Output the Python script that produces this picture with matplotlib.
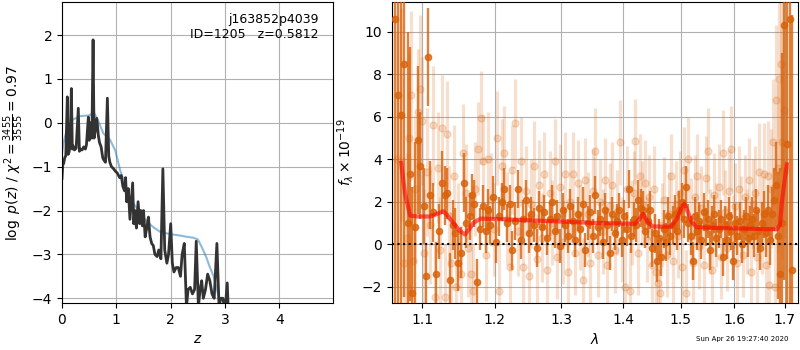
import numpy as np
import matplotlib.pyplot as plt
from matplotlib.ticker import FixedLocator, FixedFormatter, NullLocator

# p(z) curve
z_grid = [0.0, 0.015, 0.03, 0.05, 0.07, 0.098, 0.115, 0.13, 0.15, 0.172, 0.19,
          0.2, 0.23, 0.26, 0.30, 0.32, 0.34, 0.37, 0.40, 0.43, 0.45, 0.485, 0.50,
          0.53, 0.55, 0.572, 0.59, 0.61, 0.64, 0.67, 0.69, 0.72, 0.75, 0.77, 0.80,
          0.835, 0.86, 0.88, 0.91, 0.95, 0.98, 1.02, 1.06, 1.09, 1.12, 1.15, 1.17,
          1.19, 1.22, 1.25, 1.30, 1.32, 1.34, 1.37, 1.40, 1.43, 1.45, 1.48, 1.50,
          1.53, 1.56, 1.59, 1.62, 1.65, 1.68, 1.71, 1.75, 1.78, 1.82, 1.856, 1.89,
          1.93, 1.96, 2.0, 2.03, 2.06, 2.10, 2.14, 2.18, 2.21, 2.25, 2.29, 2.32,
          2.36, 2.40, 2.44, 2.47, 2.51, 2.54, 2.57, 2.60, 2.64, 2.68, 2.72, 2.76,
          2.80, 2.85, 2.89, 2.92, 2.96, 3.0, 3.04, 3.07]
log_pz = [-1.27, -0.95, -0.93, -0.8, -0.75, 0.59, -0.72, -0.67, -0.5, 0.78, -0.6,
          -0.52, -0.62, -0.58, 0.33, -0.65, -0.6, -0.62, -0.55, -0.6, -0.5, 0.13, -0.4,
          0.0, -0.35, 1.89, -0.35, -0.2, 0.1, -0.3, -0.45, -0.55, -0.8, -0.85, -0.9,
          0.56, -0.76, -0.9, -1.0, -1.05, -1.1, -1.15, -1.25, -1.2, -1.45, -1.55, -1.25,
          -1.8, -1.5, -2.2, -1.37, -2.3, -2.0, -2.4, -1.8, -2.3, -2.0, -2.35, -2.0,
          -2.6, -2.4, -2.15, -2.6, -2.75, -2.8, -3.0, -3.05, -2.9, -3.1, -1.05, -2.9,
          -3.2, -3.0, -2.3, -3.2, -3.4, -3.3, -3.3, -3.5, -3.0, -2.75, -4.2, -3.8,
          -3.75, -3.9, -3.8, -2.7, -4.2, -3.8, -3.6, -4.0, -3.8, -3.45, -3.6, -3.9,
          -4.0, -2.75, -4.2, -4.0, -4.0, -4.3, -3.65, -4.6]

z_prior = [0.0, 0.025, 0.086, 0.18, 0.33, 0.51, 0.58, 0.66, 0.76, 0.885, 0.98,
           1.07, 1.2, 1.32, 1.44, 1.56, 1.68, 1.81, 2.0, 2.17, 2.3, 2.42, 2.5,
           2.57, 2.65, 2.72, 2.79, 2.85, 2.91]
log_prior = [-0.7, -0.47, -0.17, 0.06, 0.15, 0.17, 0.25, 0.06, -0.24, -0.39, -0.63,
             -1.08, -1.55, -1.85, -2.06, -2.25, -2.38, -2.49, -2.54, -2.57, -2.6, -2.62, -2.66,
             -2.83, -3.05, -3.29, -3.5, -3.8, -4.1]

# binned spectrum (dark)
wave_bin = [1.065, 1.069, 1.073, 1.077, 1.081, 1.084, 1.087, 1.091, 1.095, 1.097,
            1.102, 1.105, 1.108, 1.111, 1.115, 1.118, 1.122, 1.127, 1.131, 1.134,
            1.138, 1.141, 1.144, 1.148, 1.153, 1.157, 1.160, 1.165, 1.168, 1.171,
            1.175, 1.179, 1.183, 1.187, 1.190, 1.194, 1.198, 1.202, 1.206, 1.210,
            1.214, 1.218, 1.222, 1.226, 1.230, 1.234, 1.238, 1.242, 1.246, 1.250,
            1.254, 1.258, 1.262, 1.266, 1.270, 1.274, 1.278, 1.282, 1.286, 1.290,
            1.294, 1.298, 1.302, 1.306, 1.310, 1.314, 1.318, 1.322, 1.326, 1.330,
            1.334, 1.338, 1.342, 1.346, 1.350, 1.354, 1.358, 1.362, 1.366, 1.370,
            1.374, 1.378, 1.382, 1.386, 1.390, 1.394, 1.398, 1.402, 1.406, 1.410,
            1.414, 1.418, 1.422, 1.426, 1.430, 1.434, 1.438, 1.442, 1.446, 1.450,
            1.454, 1.458, 1.462, 1.466, 1.470, 1.474, 1.478, 1.482, 1.486, 1.490,
            1.494, 1.498, 1.502, 1.506, 1.510, 1.514, 1.518, 1.522, 1.526, 1.530,
            1.534, 1.538, 1.542, 1.546, 1.550, 1.554, 1.558, 1.562, 1.566, 1.570,
            1.574, 1.578, 1.582, 1.586, 1.590, 1.594, 1.598, 1.602, 1.606, 1.610,
            1.614, 1.618, 1.622, 1.626, 1.630, 1.634, 1.638, 1.642, 1.646, 1.650,
            1.654, 1.658, 1.662, 1.666, 1.670, 1.674, 1.678, 1.682, 1.686, 1.690,
            1.694, 1.698, 1.704, 1.710, 1.714]
flux_bin = [10.6, 7.0, 6.1, 8.5, 1.0, 3.3, -2.3, 0.8, 4.9, 3.7,
            1.8, -1.5, 8.8, 2.3, 1.5, -1.4, 0.6, 2.9, 2.3, 2.4,
            -1.7, 0.9, 0.5, -0.9, -0.4, 2.9, 1.0, 1.3, 2.3, 1.9,
            -1.8, 0.7, 1.8, 0.6, 1.6, 0.9, 2.2, 0.1, 1.3, 2.0,
            2.6, 1.0, 1.9, -0.3, 1.1, 2.6, 0.2, 1.2, 2.1, 0.5,
            1.4, 0.9, -0.2, 1.7, 0.8, 1.5, 0.3, 1.2, 2.0, 0.6,
            1.3, -0.1, 1.6, 0.9, 0.4, 1.8, 1.1, 0.2, 1.4, 0.7,
            1.9, -0.3, 1.0, 1.5, 0.4, 2.3, 0.8, 1.2, 0.1, 1.6,
            0.9, -0.4, 1.4, 0.5, 1.1, 1.6, 0.2, 1.3, 0.7, 2.6,
            0.4, 1.2, 0.9, 2.1, 1.7, 1.6, 0.6, 1.1, 1.6, -0.2,
            0.5, -0.8, 0.3, -0.6, 0.7, 0.1, 1.3, 0.4, 0.9, 1.4,
            0.6, 1.6, 2.0, 1.2, 2.7, 1.0, 0.4, -0.8, 1.3, 0.6,
            1.1, 0.2, 1.5, 0.8, 1.2, -0.3, 0.9, 1.4, 0.3, 0.7,
            1.2, -0.6, 0.9, 0.2, 1.3, 0.6, -0.8, 1.0, 0.4, 1.1,
            0.0, 0.7, 1.3, 0.3, 0.9, 1.2, 0.4, 1.6, 0.6, -0.2,
            1.0, 1.4, 0.5, 1.6, 0.2, 1.4, 2.1, 2.8, 0.4, -1.4,
            1.0, 10.3, 4.7, 10.6, -1.2]
err_bin = [14, 12, 10, 11, 9, 6, 5, 4, 3.5, 2.5,
           1.8, 1.5, 2.3, 1.6, 1.4, 1.5, 1.3, 1.5, 1.4, 1.2,
           1.3, 1.2, 1.2, 1.3, 1.2, 1.4, 1.2, 1.1, 1.0, 1.1,
           1.1, 1.0, 1.0, 1.0, 1.0, 0.9, 1.0, 1.0, 0.9, 0.9,
           1.0, 0.9, 0.9, 0.9, 0.9, 0.9, 0.9, 0.9, 0.9, 0.9,
           0.8, 0.8, 0.9, 0.8, 0.8, 0.8, 0.8, 0.8, 0.8, 0.8,
           0.8, 0.8, 0.8, 0.8, 0.8, 0.8, 0.8, 0.8, 0.8, 0.8,
           0.8, 0.8, 0.8, 0.8, 0.8, 0.9, 0.8, 0.8, 0.8, 0.8,
           0.8, 0.8, 0.8, 0.8, 0.8, 0.8, 0.8, 0.8, 0.8, 0.9,
           0.8, 0.8, 0.8, 0.9, 0.9, 0.9, 0.8, 0.8, 0.9, 0.9,
           0.9, 1.0, 0.9, 0.9, 0.9, 0.9, 0.9, 0.9, 0.9, 0.9,
           0.9, 0.9, 0.9, 0.9, 1.0, 0.9, 0.9, 0.9, 0.9, 0.9,
           0.9, 0.9, 0.9, 0.9, 0.9, 0.9, 0.9, 0.9, 0.9, 0.9,
           0.9, 0.9, 0.9, 0.9, 0.9, 0.9, 0.9, 0.9, 0.9, 0.9,
           0.9, 0.9, 0.9, 0.9, 0.9, 1.0, 1.0, 1.0, 1.0, 1.0,
           1.0, 1.1, 1.1, 1.2, 1.2, 1.3, 1.5, 2.0, 3, 5,
           8, 12, 10, 14, 12]

# unbinned spectrum (light)
wave_raw = [1.068, 1.072, 1.076, 1.080, 1.083, 1.085, 1.088, 1.091, 1.094, 1.097,
            1.100, 1.103, 1.106, 1.110, 1.114, 1.117, 1.121, 1.124, 1.127, 1.130,
            1.133, 1.136, 1.139, 1.143, 1.146, 1.149, 1.152, 1.156, 1.159, 1.162,
            1.166, 1.169, 1.172, 1.176, 1.180, 1.183, 1.187, 1.191, 1.195, 1.199,
            1.203, 1.206, 1.210, 1.214, 1.218, 1.222, 1.226, 1.230, 1.234, 1.238,
            1.242, 1.246, 1.250, 1.254, 1.258, 1.262, 1.266, 1.270, 1.274, 1.278,
            1.282, 1.286, 1.290, 1.294, 1.298, 1.302, 1.306, 1.310, 1.314, 1.318,
            1.322, 1.326, 1.330, 1.334, 1.338, 1.342, 1.346, 1.350, 1.354, 1.358,
            1.362, 1.366, 1.370, 1.374, 1.378, 1.382, 1.386, 1.390, 1.395, 1.399,
            1.403, 1.407, 1.411, 1.415, 1.419, 1.421, 1.425, 1.429, 1.433, 1.437,
            1.441, 1.445, 1.449, 1.453, 1.457, 1.460, 1.463, 1.467, 1.471, 1.475,
            1.479, 1.483, 1.487, 1.491, 1.495, 1.499, 1.503, 1.507, 1.510, 1.514,
            1.518, 1.522, 1.526, 1.530, 1.534, 1.538, 1.542, 1.546, 1.550, 1.554,
            1.558, 1.562, 1.566, 1.570, 1.574, 1.578, 1.582, 1.586, 1.589, 1.593,
            1.597, 1.601, 1.605, 1.609, 1.613, 1.617, 1.621, 1.625, 1.629, 1.633,
            1.637, 1.641, 1.645, 1.649, 1.653, 1.657, 1.661, 1.665, 1.668, 1.672,
            1.676, 1.680, 1.683, 1.686, 1.689, 1.692, 1.695, 1.699, 1.702]
flux_raw = [4.0, 6.1, -0.9, 0.3, 5.0, 7.0, -0.8, 2.6, 6.2, 7.3,
            5.8, -0.4, 3.4, 0.9, 5.6, -2.5, 3.6, -0.3, 5.45, -2.5,
            5.2, 1.3, -0.9, 3.2, -2.0, 0.6, -1.4, 4.3, 2.4, -0.2,
            -1.4, -2.2, 2.6, 4.5, 5.95, 3.9, -0.5, 4.0, 2.1, 0.7,
            5.0, -2.2, 3.7, 4.3, 1.2, -1.1, 3.5, 5.7, 0.6, 3.9,
            -1.1, 2.5, -1.5, 1.9, 3.7, -0.7, 2.8, 0.3, 3.3, -1.2,
            2.4, 1.0, 3.9, -0.6, 2.7, 0.1, 3.3, -1.3, 2.0, 3.3,
            -0.4, 2.9, 0.8, -1.7, 3.0, 1.4, -0.9, 2.5, 4.4, -0.5,
            2.0, 0.6, 3.0, -1.0, 1.8, 2.8, -0.3, 1.5, 4.8, 0.2,
            -2.0, 2.6, -2.2, 1.0, 2.4, 4.85, -0.4, 3.2, 1.9, 2.9,
            0.2, 2.2, -1.0, 2.6, -1.3, -1.85, -2.3, 0.9, 2.1, -0.5,
            1.4, 3.2, -0.8, 1.9, 0.4, 2.4, -1.1, 3.5, -2.3, 4.0,
            1.1, -0.9, 2.2, 3.2, -0.1, 1.7, -1.0, 3.1, 4.4, 0.6,
            -1.2, 2.3, 0.9, 2.7, -0.6, 4.3, 1.5, -0.2, 2.5, 4.5,
            0.3, 1.8, -0.9, 2.6, 1.2, -0.5, 2.2, 0.6, 3.0, -1.3,
            1.9, 2.4, -0.6, 3.4, 0.9, 3.3, -1.0, 3.2, -1.95, 2.6,
            4.8, -2.0, 6.8, 3.6, 7.8, 8.5, 4.8, 6.3, 3.5]
err_raw = [6, 5, 5, 4, 4, 4, 3.5, 3.5, 3, 3.5,
           3, 3, 3, 2.8, 2.8, 2.6, 2.6, 2.5, 2.5, 2.5,
           2.5, 2.4, 2.4, 2.4, 2.3, 2.3, 2.3, 2.3, 2.3, 2.3,
           2.3, 2.2, 2.2, 2.2, 2.2, 2.2, 2.2, 2.2, 2.2, 2.2,
           2.2, 2.2, 2.2, 2.2, 2.2, 2.2, 2.1, 2.1, 2.1, 2.1,
           2.1, 2.1, 2.1, 2.1, 2.1, 2.1, 2.1, 2.1, 2.0, 2.0,
           2.0, 2.0, 2.0, 2.0, 2.0, 2.0, 2.0, 2.0, 2.0, 2.0,
           2.0, 2.0, 2.0, 2.0, 2.0, 2.0, 2.0, 2.0, 2.0, 2.0,
           2.0, 2.0, 2.0, 2.0, 2.0, 2.0, 2.0, 2.0, 2.0, 2.0,
           2.0, 2.0, 2.0, 2.0, 2.0, 2.0, 2.0, 2.0, 2.0, 2.0,
           2.0, 2.0, 2.0, 2.0, 2.0, 2.0, 2.0, 2.0, 2.0, 2.0,
           2.0, 2.0, 2.0, 2.0, 2.0, 2.0, 2.0, 2.0, 2.0, 2.0,
           2.0, 2.0, 2.0, 2.0, 2.0, 2.0, 2.0, 2.0, 2.0, 2.0,
           2.0, 2.0, 2.0, 2.0, 2.0, 2.0, 2.0, 2.0, 2.0, 2.0,
           2.0, 2.0, 2.0, 2.0, 2.0, 2.0, 2.0, 2.0, 2.0, 2.1,
           2.1, 2.2, 2.2, 2.3, 2.3, 2.4, 2.5, 2.6, 2.7, 2.8,
           3.0, 3.2, 3.5, 4, 4.5, 5, 5.5, 6, 7]

# best-fit model
wave_model = [1.0727, 1.0776, 1.0843, 1.095, 1.1106, 1.120, 1.1285, 1.135, 1.142,
              1.150, 1.158, 1.164, 1.170, 1.18, 1.203, 1.25, 1.302, 1.35, 1.41,
              1.42, 1.427, 1.434, 1.442, 1.450, 1.483, 1.494, 1.502, 1.507, 1.512,
              1.520, 1.529, 1.55, 1.60, 1.65, 1.684, 1.690, 1.694, 1.699, 1.704]
flux_model = [3.82, 2.4, 1.34, 1.3, 1.3, 1.42, 1.55, 1.3, 1.0,
              0.65, 0.45, 0.7, 1.0, 1.2, 1.18, 1.12, 1.06, 1.0, 0.96,
              0.95, 1.15, 1.42, 1.05, 0.83, 0.82, 1.2, 1.75, 1.89, 1.6,
              1.05, 0.8, 0.77, 0.74, 0.71, 0.7, 0.9, 2.0, 2.9, 3.75]

lam_ticks = [1.1, 1.2, 1.3, 1.4, 1.5, 1.6, 1.7]

fig = plt.figure(figsize=(8, 3.5), dpi=100)
ax1 = fig.add_axes([0.0775, 0.134, 0.339, 0.86])
ax2 = fig.add_axes([0.49, 0.134, 0.5075, 0.86])

# redshift panel
ax1.plot(z_prior, log_prior, color='tab:blue', alpha=0.5, lw=1.5)
ax1.plot(z_grid, log_pz, color='0.2', lw=2)
ax1.set_xlim(0, 4.99)
ax1.set_ylim(-4.11, 2.75)
ax1.set_xticks([0, 1, 2, 3, 4])
ax1.set_yticks([-4, -3, -2, -1, 0, 1, 2])
ax1.grid()
ax1.set_xlabel('$z$')
ax1.set_ylabel(r'$\log\ p(z)$ / $\chi^2=\frac{3455}{3555}=0.97$')
ax1.text(0.945, 0.965, 'j163852p4039\nID=1205   z=0.5812', ha='right', va='top',
         transform=ax1.transAxes, fontsize=9)

# spectrum panel
col = '#d9620a'
ax2.errorbar(wave_raw, flux_raw, yerr=err_raw, fmt='o', color=col, alpha=0.2,
             markersize=5, elinewidth=2.3, capsize=0, zorder=2)
ax2.errorbar(wave_bin, flux_bin, yerr=err_bin, fmt='o', color=col, alpha=0.8,
             markersize=4.5, elinewidth=1.7, capsize=0, zorder=3)
ax2.plot(wave_model, flux_model, color='r', alpha=0.6, lw=3, zorder=4)
ax2.axhline(0, color='k', ls=':', lw=1.5, zorder=5)
ax2.set_xscale('log')
ax2.set_xlim(1.061, 1.727)
ax2.set_ylim(-2.78, 11.4)
ax2.xaxis.set_major_locator(FixedLocator(lam_ticks))
ax2.xaxis.set_major_formatter(FixedFormatter(['%.1f' % t for t in lam_ticks]))
ax2.xaxis.set_minor_locator(NullLocator())
ax2.set_yticks([-2, 0, 2, 4, 6, 8, 10])
ax2.grid()
ax2.set_xlabel(r'$\lambda$')
ax2.set_ylabel(r'$f_\lambda\times10^{-19}$')

fig.text(0.985, 0.022, 'Sun Apr 26 19:27:40 2020', ha='right', va='bottom', fontsize=5)

fig.savefig('out.png', dpi=100)
